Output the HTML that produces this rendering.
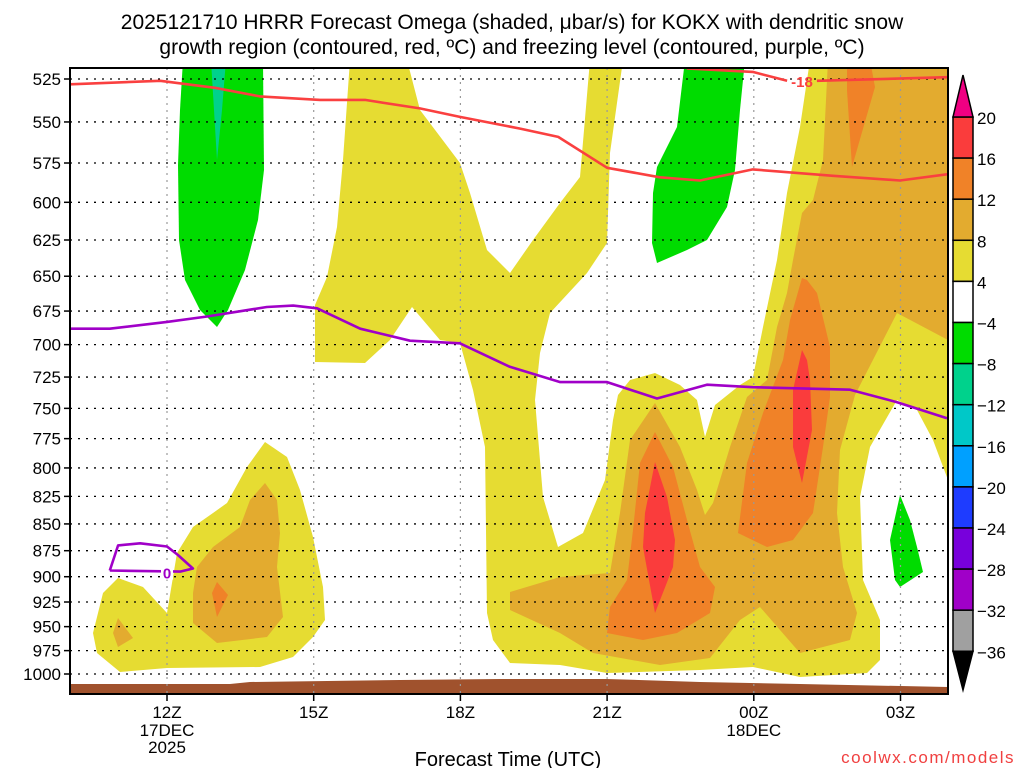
<!DOCTYPE html>
<html><head><meta charset="utf-8"><style>
body{margin:0;background:#fff;}
svg{display:block;font-family:"Liberation Sans",sans-serif;}
</style></head><body>
<svg id="chart" width="1024" height="768" viewBox="0 0 1024 768" xmlns="http://www.w3.org/2000/svg">
<defs><clipPath id="pc"><rect x="70" y="68" width="878" height="626"/></clipPath></defs>
<rect width="1024" height="768" fill="#fff"/>
<text x="512" y="29" font-size="21" text-anchor="middle" fill="#000">2025121710 HRRR Forecast Omega (shaded, μbar/s) for KOKX with dendritic snow</text>
<text x="512" y="54" font-size="21" text-anchor="middle" fill="#000">growth region (contoured, red, ºC) and freezing level (contoured, purple, ºC)</text>
<g id="fills" clip-path="url(#pc)">
<polygon fill="#e6dc32" points="93,633 103,593 118,578 143,587 167,613 177,553 193,527 213,513 227,503 247,467 265,442 287,457 300,490 313,537 323,587 325,620 313,637 293,657 260,667 167,668 120,672 97,653"/>
<polygon fill="#e3ab2f" points="193,593 197,567 213,547 240,527 250,500 265,483 277,500 280,533 277,567 283,617 267,637 217,643 193,623"/>
<polygon fill="#e3ab2f" points="118,618 133,638 118,647 113,633"/>
<polygon fill="#f08228" points="217,582 228,595 217,617 212,593"/>
<polygon fill="#e6dc32" points="350,60 343,160 337,227 327,277 315,305 315,362 365,363 390,340 412,307 440,340 460,343 473,390 485,447 487,613 493,640 510,663 560,665 607,673 700,670 753,667 800,677 867,673 880,660 880,620 863,580 860,497 870,447 897,400 917,410 933,440 948,480 948,60"/>
<polygon fill="#fff" points="407,60 420,110 460,163 470,193 487,250 510,273 533,240 560,203 580,177 590,60"/>
<polygon fill="#fff" points="623,60 610,153 607,243 587,273 550,313 540,353 535,400 543,497 558,547 583,533 605,480 613,420 618,395 630,380 655,373 680,385 697,400 705,437 715,405 740,385 753,377 763,327 777,260 787,193 800,127 810,60"/>
<polygon fill="#e3ab2f" points="828,60 823,160 813,200 802,213 793,260 787,293 777,327 767,380 747,397 730,447 713,503 705,515 697,490 680,447 655,403 630,440 620,513 610,573 560,577 510,592 510,610 560,633 593,653 660,665 710,658 740,620 760,607 800,653 850,640 857,613 843,567 837,513 840,450 855,395 897,313 948,340 948,60"/>
<polygon fill="#f08228" points="847,60 847,90 852,167 875,87 870,60"/>
<polygon fill="#f08228" points="802,278 790,320 783,360 763,413 747,463 738,533 767,547 793,540 813,513 823,447 830,397 830,347 817,293 807,280"/>
<polygon fill="#f08228" points="655,432 640,463 633,530 627,580 610,607 607,633 643,640 677,633 710,613 715,587 700,567 687,520 673,467"/>
<polygon fill="#fa3c3c" points="655,462 645,513 643,547 655,613 673,567 675,540 667,497"/>
<polygon fill="#fa3c3c" points="802,350 793,390 793,447 802,483 812,430 810,380 807,360"/>
<polygon fill="#00dc00" points="183,60 180,110 178,165 179,240 185,280 200,310 217,327 228,310 245,270 258,220 264,170 263,60"/>
<polygon fill="#00d28c" points="211,60 226,60 222,110 217,160"/>
<polygon fill="#00dc00" points="685,60 677,127 657,167 653,193 652,243 657,263 687,250 707,240 727,207 735,170 740,110 745,60"/>
<polygon fill="#00dc00" points="900,495 890,540 895,580 900,587 923,572 917,547 910,520"/>
<polygon fill="#a0522d" points="70,684 230,684 250,682 400,680 500,679 607,679 700,682 800,684 948,687 948,700 70,700"/>
</g>
<g id="grid"></g>
<g id="lines" clip-path="url(#pc)"></g>
<g id="labels"></g>
<rect x="70" y="68" width="878" height="626" fill="none" stroke="#000" stroke-width="2"/>
<g id="cbar"></g>
<text x="508" y="766" font-size="20" text-anchor="middle" fill="#000">Forecast Time (UTC)</text>
<text x="1015" y="763" font-size="17" text-anchor="end" fill="#f04040" letter-spacing="1.5">coolwx.com/models</text>
</svg>
<script>
const pressures=[525,550,575,600,625,650,675,700,725,750,775,800,825,850,875,900,925,950,975,1000];
const xTickHours=[12,15,18,21,24,27];
const xTickLabels=["12Z","15Z","18Z","21Z","00Z","03Z"];
const xTickSub=["17DEC","","","","18DEC",""];
const xTickSub2=["2025","","","","",""];
const redHours=[10.0,11.86,12.98,13.9,15.13,16.05,17.17,17.99,19.22,20.0,21.0,22.08,22.9,23.98,25.62,26.99,27.97];
const redP=[528,526,530,535,537,537,542,547,554,559,578,584,586,579,583,586,582];
const red2Hours=[22.63,23.98,24.68];
const red2P=[519,521,526];
const red3Hours=[25.29,27.95];
const red3P=[526,524];
const purpleHours=[10.0,10.83,12.0,12.82,14.04,14.58,15.07,15.95,16.97,17.99,19.01,20.04,21.0,22.02,23.04,23.98,25.97,26.93,27.95];
const purpleP=[688,688,683,679,672,671,673,688,697,699,717,729,729,742,731,733,735,745,758];
const loopHours=[10.83,11.0,11.45,12.0,12.22,12.53,12.27,10.83];
const loopP=[894,870,868,871,879,892,895,894];
const cbLevels=[20,16,12,8,4,-4,-8,-12,-16,-20,-24,-28,-32,-36];
const cbColors=["#fa3c3c","#f08228","#e3ab2f","#e6dc32","#ffffff","#00dc00","#00d28c","#00c8c8","#00a0ff","#1e3cff","#7800dc","#a000c8","#a0a0a0"];
const NS="http://www.w3.org/2000/svg";
function xs(h){return 167+(h-12)*48.9;}
function ys(p){return 674-923.4*Math.log(1000/p);}
function mk(t,a,parent){const e=document.createElementNS(NS,t);for(const k in a)e.setAttribute(k,a[k]);parent.appendChild(e);return e;}
const grid=document.getElementById('grid'),labels=document.getElementById('labels'),lines=document.getElementById('lines'),cbar=document.getElementById('cbar');
pressures.forEach(p=>{
 const y=ys(p);
 const l=mk('line',{x1:70,x2:948,y1:y,y2:y,stroke:'#000','stroke-width':1.3,'stroke-dasharray':'2,6'},grid);
 
 
 const tk=mk('line',{x1:64,x2:70,y1:y,y2:y,stroke:'#000','stroke-width':1.5},grid);
 
 
 const t=mk('text',{x:61,y:y+6,'font-size':17,'text-anchor':'end',fill:'#000'},labels);
 t.textContent=p;
 
 
});
xTickHours.forEach((h,i)=>{
 const x=xs(h);
 const l=mk('line',{x1:x,x2:x,y1:68,y2:694,stroke:'#999','stroke-width':1.2,'stroke-dasharray':'2,5'},grid);
 
 
 const tk=mk('line',{x1:x,x2:x,y1:694,y2:701,stroke:'#000','stroke-width':1.5},grid);
 
 
 [[xTickLabels[i],718],[xTickSub[i],736],[xTickSub2[i],753]].forEach(([s,y])=>{
  if(!s)return;
  const t=mk('text',{x:x,y:y,'font-size':17,'text-anchor':'middle',fill:'#000'},labels);
  t.textContent=s;
  
  
 });
});
function poly(hs,ps,color,name){
 const pts=hs.map((h,i)=>xs(h).toFixed(1)+','+ys(ps[i]).toFixed(1)).join(' ');
 const e=mk('polyline',{points:pts,fill:'none',stroke:color,'stroke-width':2.6,'stroke-linejoin':'round'},lines);
 
 
}
poly(redHours,redP,'#fa4040','dgz-line-minus18');
poly(red2Hours,red2P,'#fa4040','dgz-line-minus18-top');
poly(red3Hours,red3P,'#fa4040','dgz-line-minus18-top-right');
poly(purpleHours,purpleP,'#a000c8','freezing-level-line');
poly(loopHours,loopP,'#a000c8','freezing-level-loop');
const l1=mk('text',{x:(xs(24.68)+xs(25.29))/2,y:ys(526)+6,'font-size':15,'font-weight':'bold','text-anchor':'middle',fill:'#fa4040'},labels);
l1.textContent='-18';


const bg=mk('rect',{x:xs(12)-6,y:ys(896)-9,width:12,height:16,fill:'#fff'},labels);


const l2=mk('text',{x:xs(12),y:ys(896)+6,'font-size':15,'font-weight':'bold','text-anchor':'middle',fill:'#a000c8'},labels);
l2.textContent='0';


// colorbar
const cbTop=117,step=41.1,cx=953,cw=20;
function cy(i){return cbTop+i*step;}
cbColors.forEach((c,i)=>{
 const r=mk('rect',{x:cx,y:cy(i),width:cw,height:step,fill:c,stroke:'#000','stroke-width':1.5},cbar);
 
 
});
const tri1=mk('polygon',{points:`${cx},${cy(0)} ${cx+cw},${cy(0)} ${cx+cw/2},75`,fill:'#f00082',stroke:'#000','stroke-width':1.5},cbar);


const last=cy(cbColors.length);
const tri2=mk('polygon',{points:`${cx},${last} ${cx+cw},${last} ${cx+cw/2},690`,fill:'#000',stroke:'#000','stroke-width':1.5},cbar);


cbLevels.forEach((v,i)=>{
 const t=mk('text',{x:977,y:cy(i)+7,'font-size':17,fill:'#000'},cbar);
 t.textContent=v<0?'\u2212'+Math.abs(v):String(v);
 
 
});
</script>
</body></html>
